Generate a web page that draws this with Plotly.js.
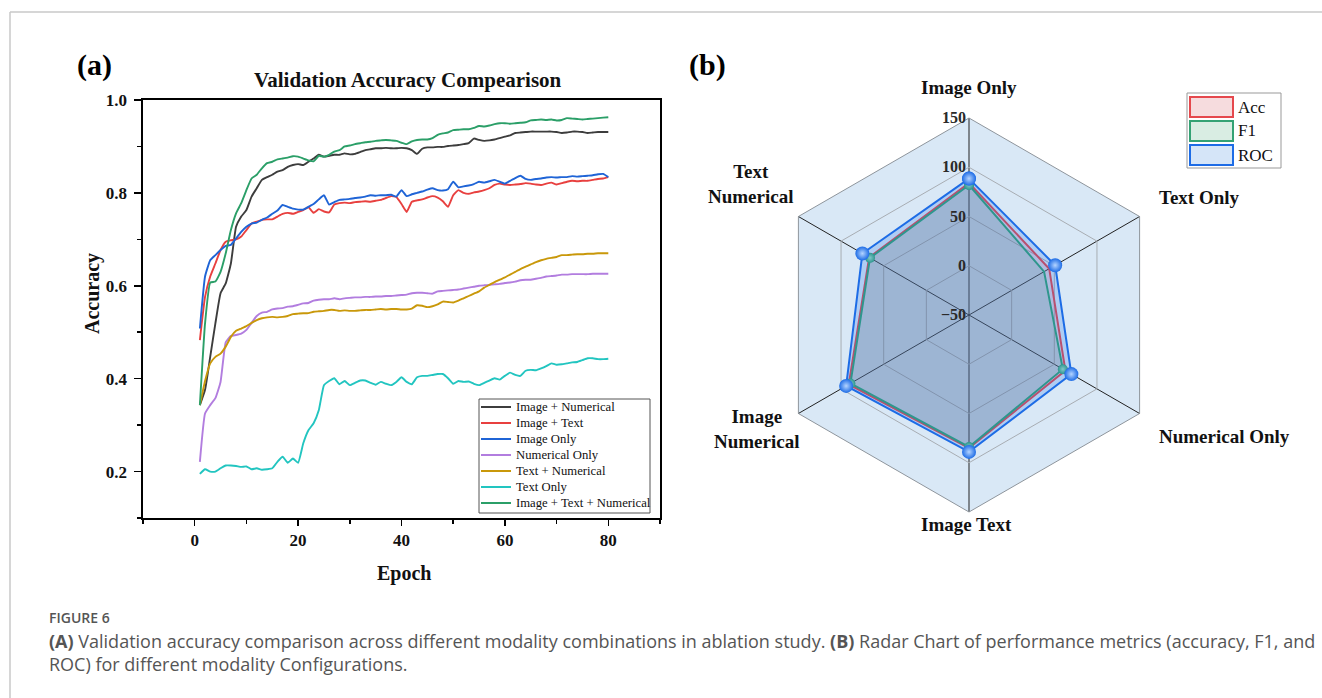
<!DOCTYPE html>
<html>
<head>
<meta charset="utf-8">
<script src="https://cdn.plot.ly/plotly-3.0.1.min.js"></script>
<style>
html,body{margin:0;padding:0;background:#fff;}
#chart{width:1322px;height:698px;}
</style>
</head>
<body>
<div id="chart"></div>
<script>
// ---------- DATA (left panel: validation accuracy per epoch) ----------
const epochs = [1,2,3,4,5,6,7,8,9,10,11,12,13,14,15,16,17,18,19,20,
  21,22,23,24,25,26,27,28,29,30,31,32,33,34,35,36,37,38,39,40,
  41,42,43,44,45,46,47,48,49,50,51,52,53,54,55,56,57,58,59,60,
  61,62,63,64,65,66,67,68,69,70,71,72,73,74,75,76,77,78,79,80];

const seriesNames = ['Image + Numerical','Image + Text','Image Only','Numerical Only',
  'Text + Numerical','Text Only','Image + Text + Numerical'];

const imageNumerical = [0.343,0.376,0.447,0.519,0.584,0.605,0.648,0.727,0.749,0.763,
 0.792,0.810,0.828,0.834,0.839,0.846,0.849,0.856,0.860,0.862,
 0.860,0.867,0.874,0.882,0.878,0.880,0.882,0.882,0.885,0.883,
 0.884,0.888,0.892,0.894,0.896,0.896,0.897,0.896,0.896,0.897,
 0.896,0.892,0.884,0.895,0.898,0.898,0.899,0.899,0.901,0.902,
 0.903,0.905,0.907,0.917,0.914,0.912,0.913,0.915,0.918,0.921,
 0.924,0.929,0.930,0.931,0.932,0.932,0.932,0.932,0.932,0.931,
 0.929,0.930,0.932,0.932,0.931,0.929,0.930,0.931,0.931,0.931];

const imageText = [0.483,0.576,0.620,0.648,0.677,0.695,0.698,0.700,0.706,0.720,
 0.734,0.738,0.742,0.743,0.743,0.749,0.755,0.757,0.755,0.759,
 0.763,0.769,0.757,0.765,0.760,0.758,0.775,0.778,0.779,0.778,
 0.780,0.781,0.782,0.781,0.783,0.785,0.789,0.793,0.791,0.776,
 0.759,0.781,0.784,0.786,0.790,0.793,0.790,0.782,0.770,0.795,
 0.806,0.800,0.798,0.801,0.803,0.806,0.810,0.817,0.820,0.818,
 0.817,0.818,0.819,0.821,0.820,0.818,0.817,0.820,0.822,0.818,
 0.821,0.824,0.826,0.825,0.826,0.826,0.828,0.830,0.831,0.834];

const imageOnly = [0.508,0.620,0.655,0.666,0.677,0.686,0.688,0.702,0.716,0.727,
 0.734,0.736,0.742,0.747,0.755,0.762,0.774,0.770,0.766,0.764,
 0.764,0.770,0.776,0.786,0.795,0.775,0.780,0.785,0.786,0.787,
 0.789,0.790,0.792,0.795,0.794,0.795,0.795,0.796,0.792,0.806,
 0.793,0.797,0.800,0.803,0.807,0.810,0.806,0.805,0.808,0.824,
 0.812,0.814,0.816,0.819,0.824,0.822,0.825,0.828,0.824,0.820,
 0.826,0.832,0.837,0.830,0.828,0.830,0.831,0.833,0.834,0.833,
 0.834,0.834,0.836,0.835,0.836,0.837,0.838,0.840,0.841,0.834];

const numericalOnly = [0.221,0.325,0.343,0.358,0.393,0.478,0.492,0.494,0.497,0.505,
 0.520,0.535,0.542,0.544,0.549,0.551,0.552,0.555,0.556,0.559,
 0.562,0.563,0.568,0.570,0.571,0.571,0.573,0.571,0.573,0.574,
 0.575,0.575,0.576,0.576,0.577,0.577,0.578,0.578,0.579,0.580,
 0.581,0.584,0.585,0.585,0.584,0.583,0.588,0.589,0.590,0.591,
 0.592,0.594,0.596,0.598,0.600,0.601,0.602,0.603,0.604,0.606,
 0.607,0.609,0.612,0.613,0.613,0.615,0.617,0.620,0.621,0.622,
 0.624,0.624,0.625,0.625,0.625,0.625,0.626,0.626,0.626,0.626];

const textNumerical = [0.343,0.395,0.433,0.447,0.454,0.469,0.490,0.503,0.508,0.513,
 0.520,0.526,0.530,0.532,0.533,0.532,0.533,0.535,0.539,0.540,
 0.541,0.541,0.544,0.545,0.546,0.548,0.548,0.546,0.547,0.546,
 0.546,0.547,0.548,0.548,0.549,0.550,0.549,0.550,0.550,0.549,
 0.549,0.551,0.558,0.557,0.554,0.556,0.560,0.566,0.565,0.564,
 0.568,0.573,0.578,0.583,0.588,0.596,0.602,0.608,0.613,0.618,
 0.624,0.630,0.636,0.641,0.646,0.651,0.655,0.658,0.660,0.662,
 0.666,0.666,0.667,0.668,0.668,0.669,0.669,0.670,0.670,0.670];

const textOnly = [0.195,0.205,0.200,0.200,0.207,0.213,0.213,0.212,0.210,0.211,
 0.205,0.207,0.204,0.205,0.207,0.221,0.232,0.219,0.228,0.219,
 0.261,0.289,0.304,0.332,0.386,0.395,0.401,0.388,0.395,0.386,
 0.391,0.396,0.396,0.391,0.387,0.393,0.389,0.386,0.393,0.403,
 0.393,0.388,0.403,0.406,0.406,0.408,0.410,0.410,0.401,0.389,
 0.395,0.393,0.394,0.389,0.386,0.391,0.396,0.401,0.398,0.406,
 0.413,0.408,0.406,0.417,0.419,0.418,0.422,0.427,0.433,0.430,
 0.431,0.433,0.435,0.436,0.440,0.444,0.444,0.442,0.442,0.443];

const imageTextNumerical = [0.343,0.519,0.607,0.609,0.630,0.670,0.720,0.756,0.778,0.806,
 0.831,0.839,0.853,0.864,0.867,0.872,0.874,0.876,0.879,0.878,
 0.874,0.870,0.868,0.880,0.878,0.882,0.889,0.892,0.900,0.902,
 0.905,0.907,0.909,0.910,0.912,0.913,0.914,0.913,0.912,0.908,
 0.905,0.911,0.914,0.915,0.915,0.918,0.925,0.928,0.930,0.935,
 0.936,0.937,0.937,0.940,0.944,0.943,0.945,0.948,0.950,0.950,
 0.949,0.950,0.951,0.952,0.956,0.957,0.958,0.957,0.958,0.956,
 0.957,0.961,0.960,0.959,0.958,0.959,0.960,0.961,0.962,0.963];

const xTickVals = [0,20,40,60,80];
const yTickVals = [0.2,0.4,0.6,0.8,1.0];

// ---------- DATA (right panel: radar) ----------
const radarCats = ['Image Only','Text Only','Numerical Only','Image Text','Image Numerical','Text Numerical'];
const radarCatLabels = ['Image Only','Text Only','Numerical Only','Image Text','Image<br>Numerical','Text<br>Numerical'];
const metricNames = ['Acc','F1','ROC'];
const accVals = [84, 44, 63, 85, 91, 67];
const f1Vals  = [82, 38, 60, 84, 89, 66];
const rocVals = [88.5, 51, 70, 89, 94, 75];
const radialTicks = [-50, 0, 50, 100, 150];

// ---------- STYLE / LAYOUT ----------
const W = 1322, H = 698;
const px = v => v / W;
const py = v => 1 - v / H;
const serif = 'Liberation Serif, Times New Roman, serif';
const lineColors = ['#3d3d3d','#e8403f','#1f64d6','#b27ddf','#c9980a','#22c5c0','#2b9f68'];
const seriesData = [imageNumerical, imageText, imageOnly, numericalOnly, textNumerical, textOnly, imageTextNumerical];

const traces = [];
seriesData.forEach((ys, i) => {
  traces.push({
    type: 'scatter', mode: 'lines', x: epochs, y: ys, name: seriesNames[i],
    line: {color: lineColors[i], width: 1.9, shape: 'spline', smoothing: 0.4},
    xaxis: 'x', yaxis: 'y', showlegend: false
  });
});

const metricLine = ['#e5484d', '#34a274', '#1d6ce6'];
const metricFill = ['rgba(232,80,85,0.15)', 'rgba(52,162,116,0.15)', 'rgba(29,108,230,0.22)'];
const metricSwatch = ['#f6dcde', '#d9ede3', '#d5e5f8'];
const metricVals = [accVals, f1Vals, rocVals];
const markerSize = [7, 10, 14];
const markerGrad = ['#f4a3a6', '#9fe0c2', '#b4d4ff'];
const close = a => a.concat([a[0]]);
metricVals.forEach((vals, i) => {
  traces.push({
    type: 'scatterpolar', subplot: 'polar', r: close(vals), theta: close(radarCats),
    name: metricNames[i], mode: 'lines+markers', fill: 'toself', fillcolor: metricFill[i],
    line: {color: metricLine[i], width: 2},
    marker: {size: markerSize[i], color: metricLine[i], gradient: {type: 'radial', color: markerGrad[i]}},
    showlegend: false
  });
});

const shapes = [
  {type:'line', xref:'paper', yref:'paper', x0:px(10), x1:1, y0:py(12), y1:py(12), line:{color:'#c8c8c8', width:1.5}},
  {type:'line', xref:'paper', yref:'paper', x0:px(10), x1:px(10), y0:py(12), y1:0, line:{color:'#c8c8c8', width:1.5}},
  {type:'rect', xref:'paper', yref:'paper', x0:px(479), x1:px(650), y0:py(399), y1:py(513), fillcolor:'#fff', line:{color:'#555', width:1}},
  {type:'rect', xref:'paper', yref:'paper', x0:px(1187), x1:px(1281), y0:py(93), y1:py(168), fillcolor:'#fff', line:{color:'#999', width:1}}
];
const annotations = [];
const ann = (x, y, text, font, extra) => annotations.push(Object.assign(
  {xref:'paper', yref:'paper', x:px(x), y:py(y), text:text, showarrow:false, xanchor:'center', yanchor:'middle', font:font}, extra || {}));

// left legend
seriesNames.forEach((n, i) => {
  const yc = 407 + i * 16;
  shapes.push({type:'line', xref:'paper', yref:'paper', x0:px(481), x1:px(511), y0:py(yc), y1:py(yc), line:{color:lineColors[i], width:2}});
  ann(514, yc, n, {family:serif, size:12.7, color:'#111'}, {xanchor:'left'});
});
// radar legend
metricNames.forEach((n, i) => {
  const y0 = 97 + i * 24;
  shapes.push({type:'rect', xref:'paper', yref:'paper', x0:px(1190), x1:px(1233), y0:py(y0), y1:py(y0 + 20), fillcolor:metricSwatch[i], line:{color:metricLine[i], width:2}});
  ann(1236, y0 + 10, n, {family:serif, size:17, color:'#111'}, {xanchor:'left'});
});
// radar category labels (angular axis labels) at their positions around the hexagon
const catLabelPos = [[969,88,'center'],[1157,197,'left'],[1157,436,'left'],[966,524,'center'],[756,429,'center'],[750,184,'center']];
radarCatLabels.forEach((t, i) => {
  const p = catLabelPos[i];
  ann(p[0], p[1], '<b>' + t + '</b>', {family:serif, size:19, color:'#111'}, {xanchor:p[2]});
});

ann(94, 65, '<b>(a)</b>', {family:serif, size:30, color:'#000'});
ann(707, 65, '<b>(b)</b>', {family:serif, size:30, color:'#000'});
ann(408, 80, '<b>Validation Accuracy Compearison</b>', {family:serif, size:21, color:'#111'});
ann(92, 294, '<b>Accuracy</b>', {family:serif, size:20, color:'#111'}, {textangle:-90});
ann(404, 573, '<b>Epoch</b>', {family:serif, size:20, color:'#111'});
ann(47, 617, 'FIGURE 6', {family:'Open Sans', size:14, color:'#555', weight:600}, {xanchor:'left'});
ann(47, 641, '<b>(A)</b> Validation accuracy comparison across different modality combinations in ablation study. <b>(B)</b> Radar Chart of performance metrics (accuracy, F1, and', {family:'Open Sans', size:18, color:'#555'}, {xanchor:'left'});
ann(47, 664, 'ROC) for different modality Configurations.', {family:'Open Sans', size:18, color:'#555'}, {xanchor:'left'});

const tickFont = {family: serif, size: 17, color: '#111', weight: 'bold'};

const layout = {
  width: W, height: H, margin: {l:0, r:0, t:0, b:0},
  paper_bgcolor: '#fff', plot_bgcolor: '#fff', showlegend: false,
  xaxis: {
    domain: [px(143), px(660)], range: [-10, 90], tickmode: 'array', tickvals: xTickVals,
    ticks: 'outside', ticklen: 6, tickwidth: 1.5, tickcolor: '#000',
    showline: true, linewidth: 1.6, linecolor: '#000', mirror: true,
    showgrid: false, zeroline: false, tickfont: tickFont,
    minor: {tick0: 0, dtick: 10, ticks: 'outside', ticklen: 4, tickwidth: 1.5, tickcolor: '#000', showgrid: false},
    automargin: false
  },
  yaxis: {
    domain: [py(518), py(100)], range: [0.1, 1.0], tickmode: 'array', tickvals: yTickVals, tickformat: '.1f',
    ticks: 'outside', ticklen: 7, tickwidth: 1.5, tickcolor: '#000', ticklabelstandoff: 4,
    showline: true, linewidth: 1.6, linecolor: '#000', mirror: true,
    showgrid: false, zeroline: false, tickfont: tickFont,
    minor: {tick0: 0.1, dtick: 0.1, ticks: 'outside', ticklen: 4, tickwidth: 1.5, tickcolor: '#000', showgrid: false},
    automargin: false
  },
  polar: {
    domain: {x: [px(772), px(1166)], y: [py(512), py(118)]},
    gridshape: 'linear', bgcolor: '#d9e8f6',
    radialaxis: {
      range: [-50, 150], tickmode: 'array', tickvals: radialTicks, angle: 90, side: 'counterclockwise',
      showline: false, gridcolor: '#a8adb3', gridwidth: 1, ticks: '', tickangle: 90,
      tickfont: {family: serif, size: 16, color: '#2a2a2a', weight: 'bold'}
    },
    angularaxis: {
      type: 'category', categoryarray: radarCats, rotation: 90, direction: 'clockwise',
      gridcolor: '#222', gridwidth: 1, linecolor: '#8e959c', linewidth: 1,
      ticks: '', showticklabels: false
    }
  },
  shapes: shapes,
  annotations: annotations
};

Plotly.newPlot('chart', traces, layout, {displayModeBar: false, staticPlot: true});
</script>
</body>
</html>
